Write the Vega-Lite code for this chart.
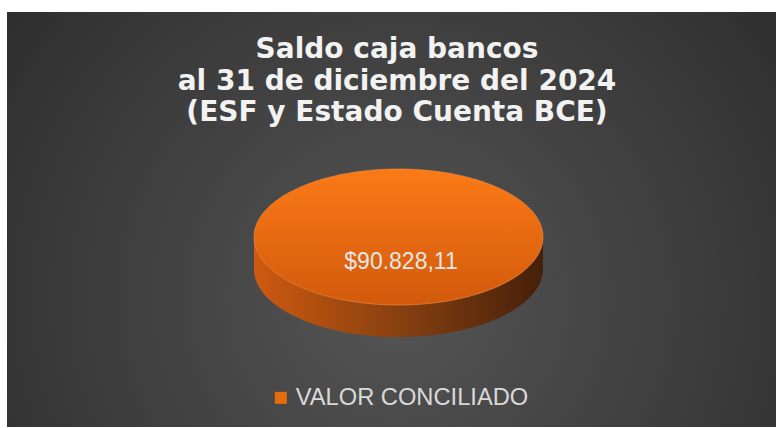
{
  "$schema": "https://vega.github.io/schema/vega-lite/v6.json",
  "autosize": {"type": "none"},
  "width": 780,
  "height": 415,
  "padding": {"left": 7, "top": 12, "right": 0, "bottom": 0},
  "background": "#ffffff",
  "data": {"values": [{"serie": "VALOR CONCILIADO", "valor": 90828.11}]},
  "title": {
    "text": ["Saldo caja bancos", "al 31 de diciembre del 2024", "(ESF y Estado Cuenta BCE)"],
    "anchor": "middle",
    "frame": "group",
    "orient": "top",
    "baseline": "alphabetic",
    "offset": -137,
    "font": "DejaVu Sans",
    "fontSize": 28,
    "fontWeight": "bold",
    "color": "#f2f2f2",
    "lineHeight": 31.5
  },
  "layer": [
    {
      "mark": {
        "type": "rect",
        "strokeWidth": 0,
        "fill": {
          "gradient": "radial",
          "x1": 0.5, "y1": 0.6, "r1": 0,
          "x2": 0.5, "y2": 0.6, "r2": 0.75,
          "stops": [
            {"offset": 0, "color": "#555555"},
            {"offset": 1, "color": "#262626"}
          ]
        }
      },
      "encoding": {}
    },
    {
      "mark": {
        "type": "point",
        "shape": "M-1,0A1,0.4706,0,0,0,1,0L1,0.2215A1,0.4706,0,0,1,-1,0.2215Z",
        "size": 83521,
        "filled": true,
        "opacity": 1,
        "strokeWidth": 0,
        "xOffset": 1.5,
        "yOffset": 17.5,
        "fill": {
          "gradient": "linear",
          "x1": 0, "y1": 0, "x2": 1, "y2": 0,
          "stops": [
            {"offset": 0, "color": "#cf5a10"},
            {"offset": 0.5, "color": "#874010"},
            {"offset": 1, "color": "#45200a"}
          ]
        }
      },
      "encoding": {}
    },
    {
      "mark": {
        "type": "point",
        "shape": "M-1,0A1,0.4706,0,1,1,1,0A1,0.4706,0,1,1,-1,0Z",
        "size": 83521,
        "filled": true,
        "opacity": 1,
        "stroke": "#f69040",
        "strokeWidth": 1,
        "strokeOpacity": 0.6,
        "xOffset": 1.5,
        "yOffset": 17.5,
        "fill": {
          "gradient": "linear",
          "x1": 0, "y1": 0, "x2": 0, "y2": 1,
          "stops": [
            {"offset": 0, "color": "#fb7a17"},
            {"offset": 1, "color": "#d25a0c"}
          ]
        }
      },
      "encoding": {}
    },
    {
      "mark": {
        "type": "text",
        "font": "Liberation Sans",
        "fontSize": 23,
        "color": "#e6e6e6",
        "baseline": "alphabetic",
        "align": "center",
        "xOffset": 4,
        "yOffset": 49.5
      },
      "encoding": {
        "text": {"field": "valor", "type": "quantitative", "format": "$,.2f"}
      }
    },
    {
      "mark": {"type": "point", "shape": "square", "filled": true, "opacity": 0},
      "encoding": {
        "color": {
          "field": "serie",
          "type": "nominal",
          "scale": {"range": ["#e46c0a"]},
          "legend": {
            "orient": "none",
            "legendX": 262,
            "legendY": 374,
            "title": null,
            "padding": 0,
            "symbolType": "square",
            "symbolSize": 144,
            "symbolOpacity": 1,
            "symbolStrokeWidth": 0,
            "labelFont": "Liberation Sans",
            "labelFontSize": 23.7,
            "labelColor": "#d9d9d9",
            "labelOffset": 3,
            "labelLimit": 400
          }
        }
      }
    }
  ],
  "config": {
    "view": {"stroke": null},
    "locale": {
      "number": {"decimal": ",", "thousands": ".", "grouping": [3], "currency": ["$", ""]}
    }
  }
}
